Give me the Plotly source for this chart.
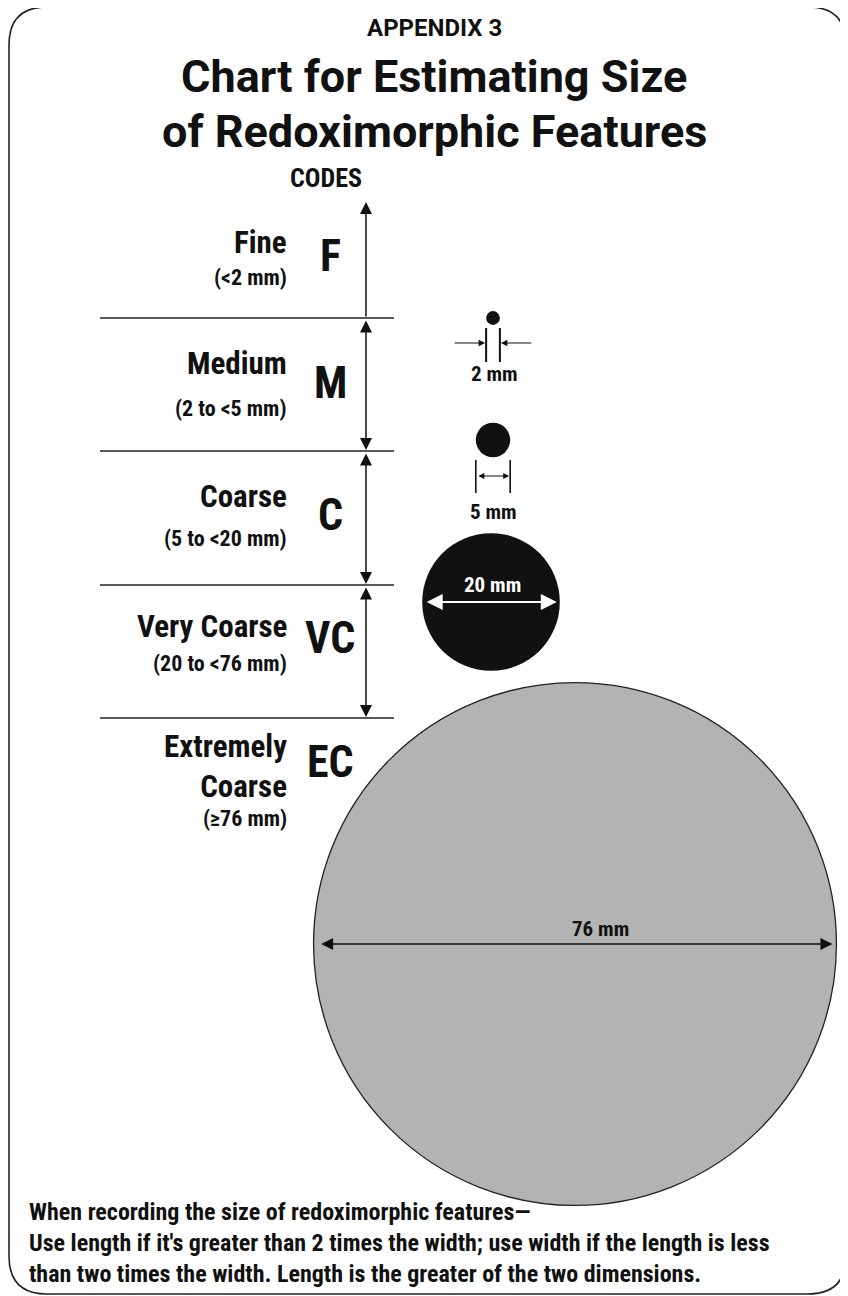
import plotly.graph_objects as go

# ---------------- data ----------------
class_names = ["Fine", "Medium", "Coarse", "Very Coarse", "Extremely<br>Coarse"]
class_ranges = ["(<2 mm)", "(2 to <5 mm)", "(5 to <20 mm)", "(20 to <76 mm)", "(≥76 mm)"]
codes = ["F", "M", "C", "VC", "EC"]
example_diam_mm = [2, 5, 20, 76]
example_labels = ["2 mm", "5 mm", "20 mm", "76 mm"]
title_lines = ["APPENDIX 3", "Chart for Estimating Size", "of Redoximorphic Features"]
footer_lines = [
    "When recording the size of redoximorphic features—",
    "Use length if it's greater than 2 times the width; use width if the length is less",
    "than two times the width. Length is the greater of the two dimensions.",
]

# ---------------- layout constants (page pixels) ----------------
PAGE_W, PAGE_H, BODY_M = 848, 1296, 8
FONT = "Roboto Condensed, DejaVu Sans, sans-serif"
TITLE_FONT = "Roboto, DejaVu Sans, sans-serif"
INK = "#111111"
PX_PER_MM = 6.88
band_edges = [202, 318, 451, 585, 718]
arrow_x = 366
line_x0, line_x1 = 100, 394
name_right = 289
code_x = 330
circle_cx = [493, 493, 491, 575]
circle_cy = [318, 440, 602, 944]

shapes, ann = [], []

# rounded border
L, R, T, B, r = 9, 846, 7, 1294, 38
path = (f"M {L+r},{T} L {R-r},{T} Q {R},{T} {R},{T+r} L {R},{B-r} Q {R},{B} {R-r},{B} "
        f"L {L+r},{B} Q {L},{B} {L},{B-r} L {L},{T+r} Q {L},{T} {L+r},{T} Z")
shapes.append(dict(type="path", path=path, line=dict(color="#222", width=1.6)))

# titles
ann.append(dict(x=434, y=28, text=f"<b>{title_lines[0]}</b>", font=dict(size=24, family=TITLE_FONT, color=INK)))
ann.append(dict(x=434, y=76, text=f"<b>{title_lines[1]}</b>", font=dict(size=45, family=TITLE_FONT, color=INK)))
ann.append(dict(x=434, y=131, text=f"<b>{title_lines[2]}</b>", font=dict(size=45, family=TITLE_FONT, color=INK)))
ann.append(dict(x=326, y=178, text="<b>CODES</b>", font=dict(size=26, family=FONT, color=INK)))

# separator lines
for yb in band_edges[1:]:
    shapes.append(dict(type="line", x0=line_x0, x1=line_x1, y0=yb, y1=yb, line=dict(color="#222", width=1.4)))

# vertical arrows
for i in range(4):
    y_top, y_bot = band_edges[i], band_edges[i + 1]
    if i == 0:
        ann.append(dict(x=arrow_x, y=y_top, ax=arrow_x, ay=y_bot, axref="x", ayref="y", text="",
                        showarrow=True, arrowhead=2, arrowsize=1.6, arrowwidth=1.5, arrowcolor=INK))
    else:
        ann.append(dict(x=arrow_x, y=y_bot - 1, ax=arrow_x, ay=y_top + 1, axref="x", ayref="y", text="",
                        showarrow=True, arrowhead=2, startarrowhead=2, arrowside="end+start",
                        arrowsize=1.6, startarrowsize=1.6, arrowwidth=1.5, arrowcolor=INK))

# class labels
name_y = [242, 363, 496, 626, 766]
range_y = [277, 408, 538, 663, 818]
code_y = [256, 383, 515, 638, 762]
for i in range(5):
    ann.append(dict(x=name_right, y=name_y[i], text=f"<b>{class_names[i]}</b>", xanchor="right",
                    align="right", font=dict(size=31, family=FONT, color=INK)))
    ann.append(dict(x=name_right, y=range_y[i], text=f"<b>{class_ranges[i]}</b>", xanchor="right",
                    font=dict(size=22, family=FONT, color=INK)))
    ann.append(dict(x=code_x, y=code_y[i], text=f"<b>{codes[i]}</b>",
                    font=dict(size=44, family=FONT, color=INK)))

# example circles
fills = [INK, INK, INK, "#b3b3b3"]
for i, d in enumerate(example_diam_mm):
    rad = d * PX_PER_MM / 2
    cx, cy = circle_cx[i], circle_cy[i]
    shapes.append(dict(type="circle", x0=cx - rad, x1=cx + rad, y0=cy - rad, y1=cy + rad,
                       fillcolor=fills[i], line=dict(color="#222", width=1.3 if i == 3 else 0)))

# 2 mm marker
cx = circle_cx[0]
h2 = example_diam_mm[0] * PX_PER_MM / 2
for xv in (cx - h2, cx + h2):
    shapes.append(dict(type="line", x0=xv, x1=xv, y0=328, y1=362, line=dict(color=INK, width=2)))
ann.append(dict(x=cx - h2 - 1, y=343, ax=cx - h2 - 33, ay=343, axref="x", ayref="y", text="",
                showarrow=True, arrowhead=2, arrowsize=1.3, arrowwidth=1, arrowcolor=INK))
ann.append(dict(x=cx + h2 + 1, y=343, ax=cx + h2 + 33, ay=343, axref="x", ayref="y", text="",
                showarrow=True, arrowhead=2, arrowsize=1.3, arrowwidth=1, arrowcolor=INK))
ann.append(dict(x=cx + 1, y=374, text=f"<b>{example_labels[0]}</b>", font=dict(size=21, family=FONT, color=INK)))

# 5 mm marker
cx = circle_cx[1]
h5 = example_diam_mm[1] * PX_PER_MM / 2
for xv in (cx - h5, cx + h5):
    shapes.append(dict(type="line", x0=xv, x1=xv, y0=460, y1=493, line=dict(color=INK, width=1.6)))
ann.append(dict(x=cx + h5 - 1, y=476, ax=cx - h5 + 1, ay=476, axref="x", ayref="y", text="",
                showarrow=True, arrowhead=2, startarrowhead=2, arrowside="end+start",
                arrowsize=1.2, startarrowsize=1.2, arrowwidth=1, arrowcolor=INK))
ann.append(dict(x=cx, y=512, text=f"<b>{example_labels[1]}</b>", font=dict(size=21, family=FONT, color=INK)))

# 20 mm marker (white on black)
cx, cy = circle_cx[2], circle_cy[2]
h20 = example_diam_mm[2] * PX_PER_MM / 2
ann.append(dict(x=cx + h20 - 3, y=cy, ax=cx - h20 + 3, ay=cy, axref="x", ayref="y", text="",
                showarrow=True, arrowhead=2, startarrowhead=2, arrowside="end+start",
                arrowsize=1.6, startarrowsize=1.6, arrowwidth=2, arrowcolor="white"))
ann.append(dict(x=cx + 1, y=cy - 17, text=f"<b>{example_labels[2]}</b>", font=dict(size=21, family=FONT, color="white")))

# 76 mm marker
cx, cy = circle_cx[3], circle_cy[3]
h76 = example_diam_mm[3] * PX_PER_MM / 2
ann.append(dict(x=cx + h76 - 4, y=cy, ax=cx - h76 + 6, ay=cy, axref="x", ayref="y", text="",
                showarrow=True, arrowhead=2, startarrowhead=2, arrowside="end+start",
                arrowsize=1.5, startarrowsize=1.5, arrowwidth=1.6, arrowcolor=INK))
ann.append(dict(x=cx + 25, y=cy - 15, text=f"<b>{example_labels[3]}</b>", font=dict(size=21, family=FONT, color=INK)))

# footer
for i, line in enumerate(footer_lines):
    ann.append(dict(x=27, y=1212 + 31 * i, text=f"<b>{line}</b>", xanchor="left",
                    font=dict(size=24, family=FONT, color=INK)))

for a in ann:
    a.setdefault("xref", "x")
    a.setdefault("yref", "y")
    a.setdefault("showarrow", False)
for s in shapes:
    s.setdefault("xref", "x")
    s.setdefault("yref", "y")

# the page body has an 8px margin: make data coordinates equal page pixels
fig = go.Figure()
fig.update_layout(
    width=PAGE_W - BODY_M, height=PAGE_H - BODY_M, margin=dict(l=0, r=0, t=0, b=0),
    paper_bgcolor="white", plot_bgcolor="white",
    xaxis=dict(range=[BODY_M, PAGE_W], visible=False, fixedrange=True),
    yaxis=dict(range=[PAGE_H, BODY_M], visible=False, fixedrange=True),
    shapes=shapes, annotations=ann, showlegend=False,
)
fig.write_html("out.html")
